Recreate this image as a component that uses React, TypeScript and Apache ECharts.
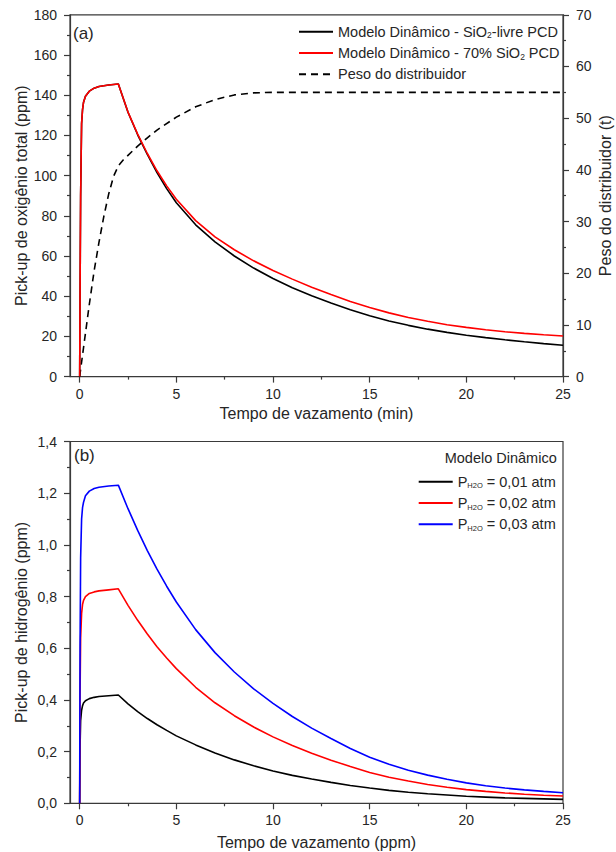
import React, { useEffect, useRef } from 'react';
import * as echarts from 'echarts';

// ---------- data ----------
const timeA = [0, 0.02, 0.05, 0.1, 0.15, 0.2, 0.3, 0.5, 0.75, 1, 1.5, 2, 2.5, 3, 3.5, 4, 4.5, 5, 6, 7, 8, 9, 10, 11, 12, 13, 14, 15, 16, 17, 18, 19, 20, 21, 22, 23, 24, 25];
const oxygenSiO2Free = [0, 40, 90, 126, 133, 136.5, 139.5, 142, 143.5, 144.3, 145.1, 145.6, 131.5, 120.3, 110.5, 101.5, 93.5, 86.5, 75.5, 67, 60, 54, 48.8, 44.2, 40.2, 36.6, 33.3, 30.3, 27.7, 25.5, 23.6, 22, 20.6, 19.4, 18.3, 17.3, 16.4, 15.6];
const oxygen70SiO2 = [0, 40, 90, 126, 133, 136.5, 139.5, 142, 143.5, 144.3, 145.1, 145.6, 131.6, 120.6, 111, 102.4, 94.9, 88.2, 77.6, 69.5, 63.1, 57.6, 52.8, 48.5, 44.5, 40.8, 37.4, 34.4, 31.7, 29.4, 27.5, 25.8, 24.5, 23.3, 22.3, 21.5, 20.8, 20.2];

const timeWeight = [0, 0.25, 0.5, 0.75, 1, 1.25, 1.5, 1.75, 2, 2.25, 2.5, 3, 3.5, 4, 5, 6, 7, 8, 9, 10, 15, 20, 25];
const tundishWeight = [0, 7, 14, 20.5, 26, 31, 35.3, 38.7, 40.8, 41.9, 42.8, 44.6, 46.2, 47.7, 50.2, 52.2, 53.6, 54.5, 54.9, 55, 55, 55, 55];

const timeB = [0, 0.02, 0.05, 0.1, 0.15, 0.2, 0.3, 0.5, 0.75, 1, 1.5, 2, 2.5, 3, 3.5, 4, 4.5, 5, 6, 7, 8, 9, 10, 11, 12, 13, 14, 15, 16, 17, 18, 19, 20, 21, 22, 23, 24, 25];
const hydrogen001 = [0, 0.22, 0.32, 0.36, 0.378, 0.388, 0.397, 0.405, 0.41, 0.413, 0.416, 0.419, 0.385, 0.355, 0.328, 0.304, 0.282, 0.261, 0.226, 0.195, 0.168, 0.145, 0.125, 0.108, 0.094, 0.081, 0.069, 0.059, 0.05, 0.043, 0.037, 0.032, 0.027, 0.024, 0.021, 0.019, 0.017, 0.015];
const hydrogen002 = [0, 0.42, 0.64, 0.735, 0.77, 0.785, 0.8, 0.812, 0.818, 0.822, 0.826, 0.83, 0.766, 0.708, 0.655, 0.606, 0.562, 0.521, 0.449, 0.389, 0.339, 0.295, 0.257, 0.224, 0.194, 0.167, 0.142, 0.119, 0.101, 0.086, 0.073, 0.062, 0.053, 0.046, 0.04, 0.035, 0.031, 0.028];
const hydrogen003 = [0, 0.6, 0.95, 1.1, 1.145, 1.165, 1.19, 1.208, 1.218, 1.223, 1.228, 1.231, 1.14, 1.056, 0.978, 0.906, 0.84, 0.779, 0.672, 0.583, 0.508, 0.443, 0.387, 0.336, 0.291, 0.251, 0.212, 0.178, 0.151, 0.128, 0.109, 0.093, 0.079, 0.068, 0.059, 0.052, 0.046, 0.041];

const xMajorTicks = [0, 5, 10, 15, 20, 25];
const xMinorTicks = [2.5, 7.5, 12.5, 17.5, 22.5];

const seriesNamesA = ['Modelo Dinâmico - SiO2-livre PCD', 'Modelo Dinâmico - 70% SiO2 PCD', 'Peso do distribuidor'];
const seriesNamesB = ['PH2O = 0,01 atm', 'PH2O = 0,02 atm', 'PH2O = 0,03 atm'];

const legendRich: Record<string, string> = {
  'Modelo Dinâmico - SiO2-livre PCD': '{a|Modelo Dinâmico - SiO}{s|2}{a|-livre PCD}',
  'Modelo Dinâmico - 70% SiO2 PCD': '{a|Modelo Dinâmico - 70% SiO}{s|2}{a| PCD}',
  'Peso do distribuidor': '{a|Peso do distribuidor}',
  'PH2O = 0,01 atm': '{a|P}{s|H2O}{a| = 0,01 atm}',
  'PH2O = 0,02 atm': '{a|P}{s|H2O}{a| = 0,02 atm}',
  'PH2O = 0,03 atm': '{a|P}{s|H2O}{a| = 0,03 atm}',
};

const FONT = 'Liberation Sans, Arial, sans-serif';
const AXIS_COLOR = '#3a3a3a';
const TEXT_COLOR = '#262626';

const pair = (t: number[], v: number[]) => t.map((x, i) => [x, v[i]]);

function mainX(gridIndex: number, name: string, nameGap: number) {
  return {
    type: 'value',
    gridIndex,
    position: 'bottom',
    min: -0.5,
    max: 25,
    name,
    nameLocation: 'middle',
    nameGap,
    nameMoveOverlap: false,
    nameTextStyle: { fontSize: 16, color: TEXT_COLOR, fontFamily: FONT },
    axisLine: { show: true, onZero: false, lineStyle: { color: AXIS_COLOR, width: 1.2 } },
    axisTick: { show: true, inside: false, length: 6, customValues: xMajorTicks, lineStyle: { color: AXIS_COLOR, width: 1.2 } },
    axisLabel: { show: true, margin: 10, fontSize: 14, color: TEXT_COLOR, fontFamily: FONT, customValues: xMajorTicks },
    splitLine: { show: false },
  };
}

function minorX(gridIndex: number) {
  return {
    type: 'value',
    gridIndex,
    position: 'bottom',
    min: -0.5,
    max: 25,
    axisLine: { show: false, onZero: false },
    axisTick: { show: true, inside: false, length: 3, customValues: xMinorTicks, lineStyle: { color: AXIS_COLOR, width: 1.2 } },
    axisLabel: { show: false, customValues: xMinorTicks },
    splitLine: { show: false },
  };
}

function yAx(gridIndex: number, position: string, min: number, max: number, interval: number, name: string, nameGap: number, formatter: (v: number) => string) {
  return {
    type: 'value',
    gridIndex,
    position,
    min,
    max,
    interval,
    name,
    nameLocation: 'middle',
    nameGap,
    nameRotate: 90,
    nameMoveOverlap: false,
    nameTextStyle: { fontSize: 16, color: TEXT_COLOR, fontFamily: FONT },
    axisLine: { show: true, onZero: false, lineStyle: { color: AXIS_COLOR, width: 1.2 } },
    axisTick: { show: true, inside: false, length: 6, lineStyle: { color: AXIS_COLOR, width: 1.2 } },
    minorTick: { show: true, splitNumber: 2, length: 3, lineStyle: { color: AXIS_COLOR, width: 1.2 } },
    axisLabel: { show: true, margin: 13, fontSize: 14, color: TEXT_COLOR, fontFamily: FONT, formatter },
    splitLine: { show: false },
    minorSplitLine: { show: false },
  };
}

function legendCfg(names: string[], left: number, top: number, subSize: number, subLH: number) {
  return {
    data: names,
    orient: 'vertical',
    left,
    top,
    itemWidth: 34,
    itemHeight: 14,
    itemGap: 5.7,
    padding: 0,
    itemStyle: { opacity: 0 },
    formatter: (name: string) => legendRich[name],
    textStyle: {
      color: TEXT_COLOR,
      fontFamily: FONT,
      rich: {
        a: { fontSize: 14.5, lineHeight: 16, color: TEXT_COLOR, fontFamily: FONT },
        s: { fontSize: subSize, lineHeight: subLH, verticalAlign: 'bottom', color: TEXT_COLOR, fontFamily: FONT },
      },
    },
  };
}

export default function App() {
  const ref = useRef<HTMLDivElement>(null);
  useEffect(() => {
    if (!ref.current) return;
    const chart = echarts.init(ref.current, null, { renderer: 'svg' });
    const lineBase = { type: 'line', symbol: 'none', showSymbol: false, smooth: false, animation: false };
    const option: any = {
      animation: false,
      backgroundColor: '#ffffff',
      textStyle: { fontFamily: FONT },
      grid: [
        { left: 70, right: 53, top: 14.8, height: 361.8, show: true, borderColor: AXIS_COLOR, borderWidth: 1.2, backgroundColor: 'transparent', outerBoundsMode: 'none', containLabel: false },
        { left: 70, right: 53, top: 441.5, height: 361.8, show: true, borderColor: AXIS_COLOR, borderWidth: 1.2, backgroundColor: 'transparent', outerBoundsMode: 'none', containLabel: false },
      ],
      xAxis: [
        mainX(0, 'Tempo de vazamento (min)', 29),
        minorX(0),
        mainX(1, 'Tempo de vazamento (ppm)', 31),
        minorX(1),
      ],
      yAxis: [
        yAx(0, 'left', 0, 180, 20, 'Pick-up de oxigênio total (ppm)', 41, (v: number) => String(Math.round(v))),
        yAx(0, 'right', 0, 70, 10, 'Peso do distribuidor (t)', 34, (v: number) => String(Math.round(v))),
        yAx(1, 'left', 0, 1.4, 0.2, 'Pick-up de hidrogênio (ppm)', 41, (v: number) => v.toFixed(1).replace('.', ',')),
      ],
      legend: [
        legendCfg(seriesNamesA, 298, 24.3, 8.5, 6),
        legendCfg(seriesNamesB, 417.7, 474.3, 7.5, 2),
      ],
      graphic: [
        { type: 'text', left: 73, top: 24.5, style: { text: '(a)', fontSize: 17, fill: TEXT_COLOR, fontFamily: FONT } },
        { type: 'text', left: 74, top: 447, style: { text: '(b)', fontSize: 17, fill: TEXT_COLOR, fontFamily: FONT } },
        { type: 'text', x: 556.7, y: 458.3, style: { text: 'Modelo Dinâmico', fontSize: 14.5, fill: TEXT_COLOR, fontFamily: FONT, textAlign: 'right', textVerticalAlign: 'middle' } },
      ],
      series: [
        { ...lineBase, name: seriesNamesA[0], xAxisIndex: 0, yAxisIndex: 0, data: pair(timeA, oxygenSiO2Free), lineStyle: { color: '#000000', width: 1.6 }, itemStyle: { color: '#000000' }, z: 3 },
        { ...lineBase, name: seriesNamesA[1], xAxisIndex: 0, yAxisIndex: 0, data: pair(timeA, oxygen70SiO2), lineStyle: { color: '#ff0000', width: 1.6 }, itemStyle: { color: '#ff0000' }, z: 4 },
        { ...lineBase, name: seriesNamesA[2], xAxisIndex: 0, yAxisIndex: 1, data: pair(timeWeight, tundishWeight), lineStyle: { color: '#000000', width: 1.6, type: [7, 5] }, itemStyle: { color: '#000000' }, z: 2 },
        { ...lineBase, name: seriesNamesB[0], xAxisIndex: 2, yAxisIndex: 2, data: pair(timeB, hydrogen001), lineStyle: { color: '#000000', width: 1.6 }, itemStyle: { color: '#000000' } },
        { ...lineBase, name: seriesNamesB[1], xAxisIndex: 2, yAxisIndex: 2, data: pair(timeB, hydrogen002), lineStyle: { color: '#ff0000', width: 1.6 }, itemStyle: { color: '#ff0000' } },
        { ...lineBase, name: seriesNamesB[2], xAxisIndex: 2, yAxisIndex: 2, data: pair(timeB, hydrogen003), lineStyle: { color: '#0000ff', width: 1.6 }, itemStyle: { color: '#0000ff' } },
      ],
    };
    chart.setOption(option);
    return () => chart.dispose();
  }, []);
  return <div ref={ref} style={{ position: 'absolute', left: 0, top: 0, width: 616, height: 852 }} />;
}
